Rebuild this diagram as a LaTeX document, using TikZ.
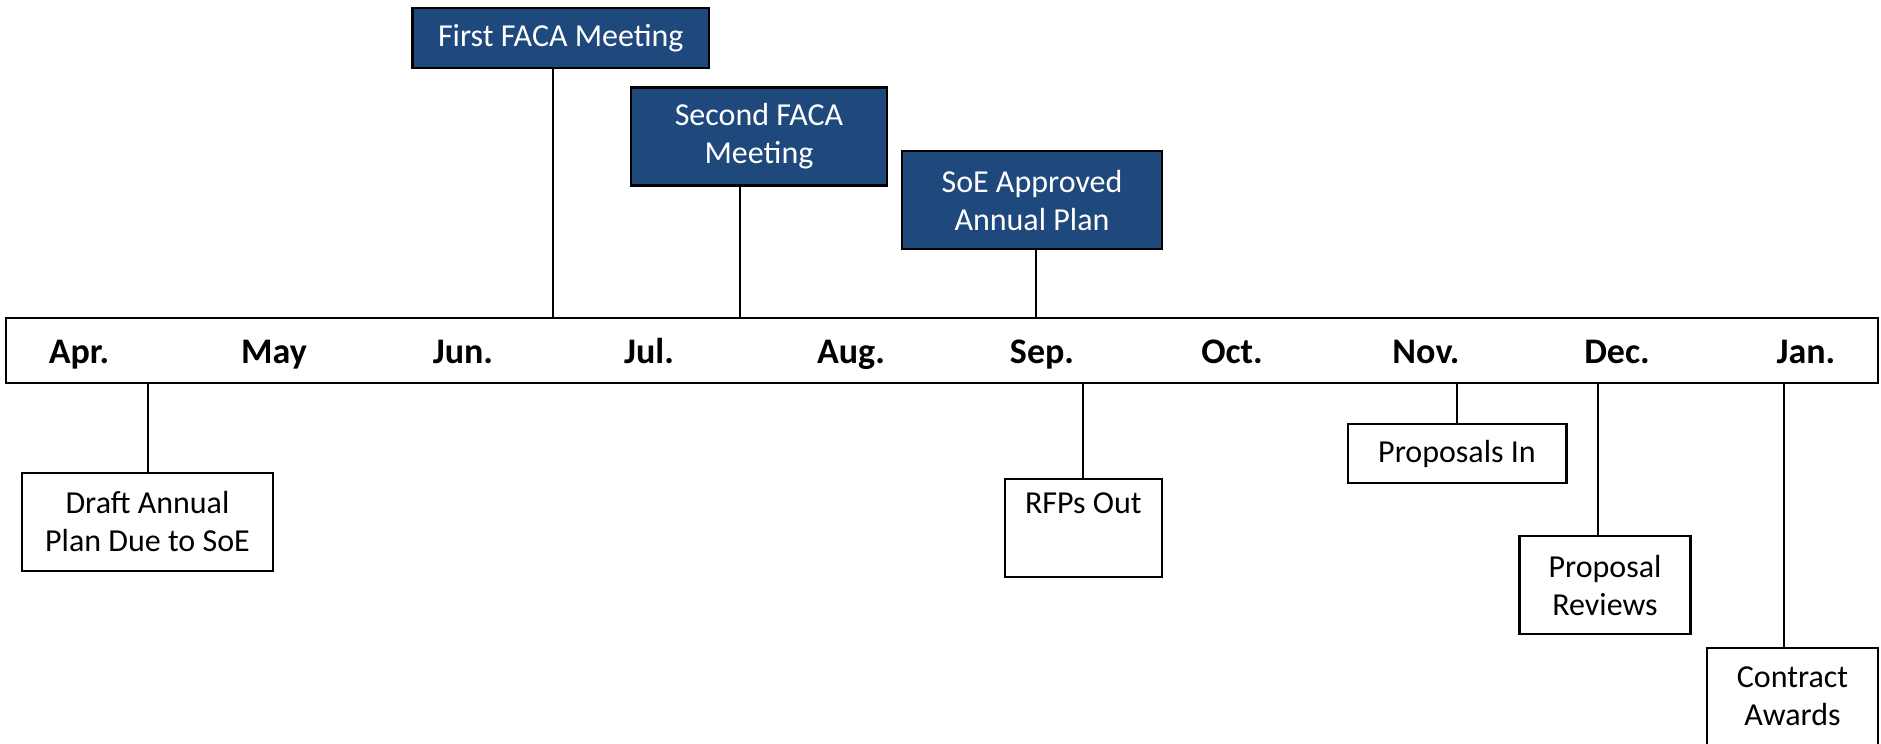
\documentclass[tikz,border=0pt]{standalone}
\usepackage{fontspec}
\setmainfont{Carlito}
\usepackage{tikz}

\definecolor{facablue}{RGB}{31,73,125}

\begin{document}
\begin{tikzpicture}[x=0.5pt,y=-0.5pt,
    month/.style={anchor=base,font=\fontsize{18}{22}\selectfont\bfseries},
    event/.style={draw=black,line width=1.1pt,fill=white,align=center,inner sep=0pt,
        minimum height=49pt,font=\fontsize{16}{19}\selectfont},
    meeting/.style={event,fill=facablue,text=white},
    stem/.style={line width=1pt}]

    % frame
    \clip (0,0) rectangle (1881,744);
    \fill[white] (0,0) rectangle (1881,744);

    % timeline bar
    \node[draw=black,line width=1.2pt,fill=white,minimum width=936pt,minimum height=32.5pt,inner sep=0pt] (bar) at (942,350.5) {};

    % months
    \foreach \m/\x [count=\i] in {Apr./79,May/274,Jun./463,Jul./649,Aug./851,Sep./1042,Oct./1232,Nov./1426,Dec./1617,Jan./1806}
        \node[month] (month\i) at (\x,363) {\m};

    % meetings above the bar
    \node[meeting,minimum width=148.3pt,minimum height=29.7pt] (first) at (560.8,38) {First FACA Meeting};
    \node[meeting,minimum width=128.3pt] (second) at (759,136.5) {Second FACA\\Meeting};
    \node[meeting,minimum width=129.8pt] (soe) at (1032,200.2) {SoE Approved\\Annual Plan};

    % events below the bar
    \node[event,minimum width=125.3pt] (draft) at (147.5,521.7) {Draft Annual\\Plan Due to SoE};
    \node[event,minimum width=78.5pt] (rfps) at (1083.3,527.7) {RFPs Out\\\strut};
    \node[event,minimum width=109.4pt,minimum height=29.5pt] (propin) at (1457,453.8) {Proposals In};
    \node[event,minimum width=85.5pt] (reviews) at (1605,585.2) {Proposal\\Reviews};
    \node[event,minimum width=85.8pt] (awards) at (1792.5,696.7) {Contract\\Awards};

    % stem positions
    \coordinate (s-first) at (553,0);
    \coordinate (s-second) at (740.4,0);
    \coordinate (s-soe) at (1036,0);
    \coordinate (s-draft) at (147.5,0);
    \coordinate (s-rfps) at (1083.3,0);
    \coordinate (s-propin) at (1456.8,0);
    \coordinate (s-reviews) at (1598.3,0);
    \coordinate (s-awards) at (1784,0);

    % stems
    \foreach \e in {first,second,soe}
        \draw[stem] (\e.south -| s-\e) -- (bar.north -| s-\e);
    \foreach \e in {draft,rfps,propin,reviews,awards}
        \draw[stem] (bar.south -| s-\e) -- (\e.north -| s-\e);
\end{tikzpicture}
\end{document}
